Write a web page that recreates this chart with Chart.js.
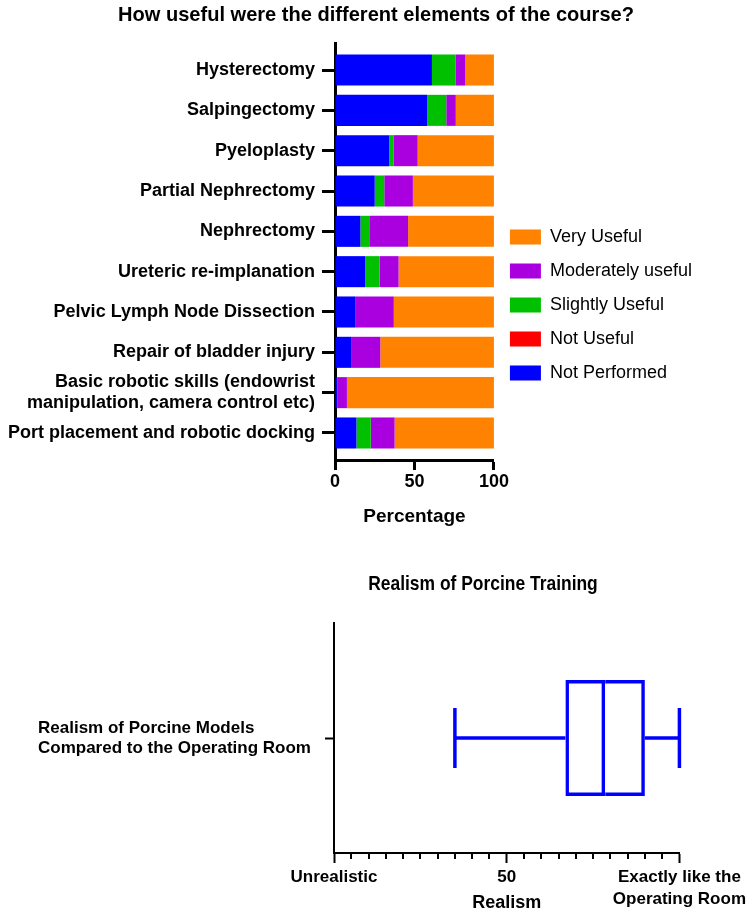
<!DOCTYPE html>
<html>
<head>
<meta charset="utf-8">
<script src="https://cdn.jsdelivr.net/npm/chart.js@4/dist/chart.umd.min.js"></script>
<style>
  html, body { margin: 0; padding: 0; background: #fff; overflow: hidden; }
  .box { position: relative; width: 749px; }
  .ttl {
    position: absolute; text-align: center; white-space: nowrap;
    font: bold 21px 'Liberation Sans', Arial, sans-serif;
    line-height: 26px; color: #000;
  }
  #t1 { top: 1px; left: 26px; width: 700px; transform: scaleX(0.955); }
  #t2 { top: 25px; left: 183px; width: 600px; transform: scaleX(0.83); }
</style>
</head>
<body>
<div class="box" style="height:545px"><canvas id="usefulChart"></canvas><div id="t1" class="ttl">How useful were the different elements of the course?</div></div>
<div class="box" style="height:369px"><canvas id="realismChart"></canvas><div id="t2" class="ttl">Realism of Porcine Training</div></div>
<script>
// Course elements, top to bottom
const tasks = [
  'Hysterectomy',
  'Salpingectomy',
  'Pyeloplasty',
  'Partial Nephrectomy',
  'Nephrectomy',
  'Ureteric re-implanation',
  'Pelvic Lymph Node Dissection',
  'Repair of bladder injury',
  ['Basic robotic skills (endowrist', 'manipulation, camera control etc)'],
  'Port placement and robotic docking'
];

// Percentages per rating
const notPerformed     = [61, 58, 34, 25, 16, 19, 13, 10.5, 1.5, 13.5];
const notUseful        = [0, 0, 0, 0, 0, 0, 0, 0, 0, 0];
const slightlyUseful   = [15, 12, 3, 6, 6, 9, 0, 0, 0, 9];
const moderatelyUseful = [6, 6, 15, 18, 24, 12, 24, 18, 6, 15];
const veryUseful       = [18, 24, 48, 51, 54, 60, 63, 71.5, 92.5, 62.5];
const percentTicks = [0, 50, 100];

// Realism box plot: min, Q1, median, Q3, max
const realism = [35, 67, 78.5, 90, 100];
const realismLabel = 'Realism of Porcine Models Compared to the Operating Room';
const realismLabelLines = ['Realism of Porcine Models', 'Compared to the Operating Room'];
const realismTicks = [0, 50, 100];
const realismTickLabels = ['Unrealistic', '50', ['Exactly like the', 'Operating Room']];

Chart.defaults.color = '#000';
Chart.defaults.font.family = "'Liberation Sans', Arial, Helvetica, sans-serif";

// Top chart: stacked horizontal bars
new Chart(document.getElementById('usefulChart').getContext('2d'), {
  type: 'bar',
  data: {
    labels: tasks.map((t, i) => i),
    datasets: [
      { label: 'Not Performed', data: notPerformed, backgroundColor: '#0000ff' },
      { label: 'Not Useful', data: notUseful, backgroundColor: '#ff0000' },
      { label: 'Slightly Useful', data: slightlyUseful, backgroundColor: '#00c000' },
      { label: 'Moderately useful', data: moderatelyUseful, backgroundColor: '#aa00e0' },
      { label: 'Very Useful', data: veryUseful, backgroundColor: '#ff8200' }
    ]
  },
  options: {
    indexAxis: 'y',
    responsive: true,
    maintainAspectRatio: false,
    animation: false,
    layout: { padding: { left: 0, right: 47, top: 43, bottom: 12.6 } },
    datasets: { bar: { borderWidth: 0, categoryPercentage: 1, barPercentage: 0.77 } },
    plugins: {
      legend: {
        position: 'right',
        reverse: true,
        maxWidth: 320,
        title: { display: true, text: ' ', padding: { top: 0, bottom: 20.2 } },
        labels: { boxWidth: 31, boxHeight: 15, padding: 16, font: { size: 18 } }
      },
      tooltip: { enabled: false }
    },
    scales: {
      x: {
        stacked: true,
        min: 0,
        max: 100,
        afterBuildTicks: s => { s.ticks = percentTicks.map(v => ({ value: v })); },
        grid: { drawOnChartArea: false, color: '#000', tickLength: 10, tickWidth: 3 },
        border: { color: '#000', width: 3 },
        ticks: { padding: 1, font: { size: 18, weight: 'bold' } },
        title: { display: true, text: 'Percentage', font: { size: 19, weight: 'bold' }, padding: { top: 12, bottom: 4 } }
      },
      y: {
        type: 'linear',
        stacked: true,
        reverse: true,
        offset: false,
        min: -0.67,
        max: 9.67,
        afterBuildTicks: s => { s.ticks = tasks.map((t, i) => ({ value: i })); },
        afterFit: s => { s.width = 335; },
        grid: { offset: false, drawOnChartArea: false, color: '#000', tickLength: 13, tickWidth: 3 },
        border: { color: '#000', width: 3 },
        ticks: { padding: 7, font: { size: 18, weight: 'bold' }, callback: v => tasks[v] }
      }
    }
  }
});

// Minor ticks on the realism axis
const minorTicks = {
  id: 'minorTicks',
  afterDraw(chart) {
    const x = chart.scales.x;
    const ctx = chart.ctx;
    const y0 = chart.chartArea.bottom;
    ctx.save();
    ctx.strokeStyle = '#000';
    ctx.lineWidth = 2;
    for (let v = 5; v < 100; v += 5) {
      if (v % 50 === 0) continue;
      const px = Math.round(x.getPixelForValue(v));
      ctx.beginPath();
      ctx.moveTo(px, y0);
      ctx.lineTo(px, y0 + 6);
      ctx.stroke();
    }
    ctx.restore();
  }
};

// Bottom chart: box and whiskers
const BLUE = '#0000ff';
new Chart(document.getElementById('realismChart').getContext('2d'), {
  type: 'bar',
  data: {
    labels: [realismLabel],
    datasets: [
      {
        data: [[realism[1], realism[2]]],
        borderColor: BLUE, backgroundColor: 'rgba(0,0,0,0)',
        borderWidth: 3.5, borderSkipped: false
      },
      {
        data: [[realism[2], realism[3]]],
        borderColor: BLUE, backgroundColor: 'rgba(0,0,0,0)',
        borderWidth: { top: 3.5, bottom: 3.5, right: 3.5, left: 0 }, borderSkipped: false
      },
      {
        type: 'line',
        data: [{ x: realism[0], y: realismLabel }, { x: realism[1], y: realismLabel }],
        borderColor: BLUE, borderWidth: 3.5, pointRadius: 0, clip: false
      },
      {
        type: 'line',
        data: [{ x: realism[3], y: realismLabel }, { x: realism[4], y: realismLabel }],
        borderColor: BLUE, borderWidth: 3.5, pointRadius: 0, clip: false
      },
      {
        type: 'line',
        showLine: false,
        data: [{ x: realism[0], y: realismLabel }, { x: realism[4], y: realismLabel }],
        pointStyle: 'line', pointRotation: 90, pointRadius: 30,
        pointBorderColor: BLUE, pointBorderWidth: 3.5, clip: false
      }
    ]
  },
  options: {
    indexAxis: 'y',
    responsive: true,
    maintainAspectRatio: false,
    animation: false,
    layout: { padding: { left: 38, right: 69, top: 78, bottom: 0 } },
    datasets: { bar: { grouped: false, categoryPercentage: 0.504, barPercentage: 1 } },
    plugins: { legend: { display: false }, tooltip: { enabled: false } },
    scales: {
      x: {
        min: 0,
        max: 100,
        afterBuildTicks: s => { s.ticks = realismTicks.map(v => ({ value: v })); },
        afterFit: s => { s.height = 61; },
        grid: { drawOnChartArea: false, color: '#000', tickLength: 10, tickWidth: 2 },
        border: { color: '#000', width: 2 },
        ticks: {
          padding: 3,
          font: { size: 17, weight: 'bold', lineHeight: 1.3 },
          callback: v => realismTickLabels[realismTicks.indexOf(v)]
        },
        title: { display: true, text: 'Realism', font: { size: 18, weight: 'bold' }, padding: { top: 0, bottom: 0 } }
      },
      y: {
        afterFit: s => { s.width = 296; },
        grid: { offset: false, drawOnChartArea: false, color: '#000', tickLength: 9, tickWidth: 2 },
        border: { color: '#000', width: 2 },
        ticks: {
          crossAlign: 'far',
          font: { size: 17, weight: 'bold', lineHeight: 1.18 },
          callback: () => realismLabelLines
        }
      }
    }
  },
  plugins: [minorTicks]
});
</script>
</body>
</html>
